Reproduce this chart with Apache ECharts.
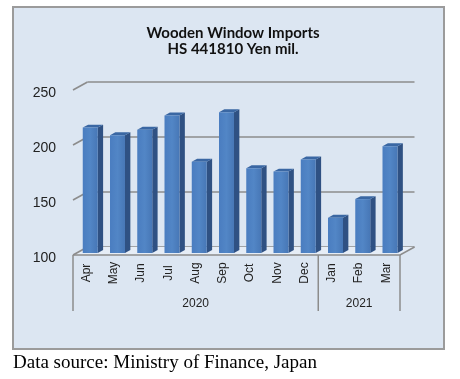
<!DOCTYPE html>
<html>
<head>
<meta charset="utf-8">
<script src="https://cdn.jsdelivr.net/npm/echarts@6/dist/echarts.min.js"></script>
<style>
html,body{margin:0;padding:0;background:#fff;}
#c{width:460px;height:379px;}
</style>
</head>
<body>
<div id="c"></div>
<script>
// ---- data ----
const months = ['Apr','May','Jun','Jul','Aug','Sep','Oct','Nov','Dec','Jan','Feb','Mar'];
const values = [214, 207, 212, 225, 183, 228, 177, 174, 185, 132, 149, 197];
const yearLabels = ['2020', '2021'];
const yearStart = [0, 9];
const yearEnd = [8, 11];
const yTicks = [100, 150, 200, 250];

// ---- style ----
const DX = 14.5, DY = -8;          // depth vector of the 3D box
const F0 = 0.25, F1 = 0.62;        // bar depth position (front/back fractions)
const gridColor = '#8c8c8c';

const chart = echarts.init(document.getElementById('c'), null, {renderer: 'canvas'});

function barItem(params, api) {
  const idx = api.value(0), v = api.value(1);
  const p0 = api.coord([idx, yTicks[0]]);
  const p1 = api.coord([idx, v]);
  const band = api.size([1, 0])[0];
  const w = band * 0.55;
  const xl = p0[0] - w / 2 + F0 * DX, xr = xl + w;
  const yb = p0[1] + F0 * DY, yt = p1[1] + F0 * DY;
  const dx = (F1 - F0) * DX, dy = (F1 - F0) * DY;
  return {
    type: 'group',
    children: [
      {type: 'polygon', shape: {points: [[xr, yt], [xr + dx, yt + dy], [xr + dx, yb + dy], [xr, yb]]},
       style: {fill: '#2f5183'}},
      {type: 'polygon', shape: {points: [[xl, yt], [xl + dx, yt + dy], [xr + dx, yt + dy], [xr, yt]]},
       style: {fill: '#3a67a3'}},
      {type: 'rect', shape: {x: xl, y: yt, width: w, height: yb - yt},
       style: {fill: new echarts.graphic.LinearGradient(0, 0, 1, 0, [
         {offset: 0, color: '#4a7dc0'}, {offset: 0.5, color: '#5286c6'}, {offset: 1, color: '#4777b6'}])}}
    ]
  };
}

function frameItem(params, api) {
  const cs = params.coordSys;
  const x0 = cs.x, x1 = cs.x + cs.width;
  const children = [];
  const yb = api.coord([0, yTicks[0]])[1];
  // floor
  children.push({type: 'polygon', z2: 0,
    shape: {points: [[x0, yb], [x1, yb], [x1 + DX, yb + DY], [x0 + DX, yb + DY]]},
    style: {fill: '#e6edf6', stroke: null}});
  children.push({type: 'polyline', z2: 1,
    shape: {points: [[x0, yb], [x1, yb], [x1 + DX, yb + DY]]},
    style: {stroke: gridColor, lineWidth: 1.5, fill: null}});
  // left wall diagonals
  yTicks.forEach(function (t) {
    const y = api.coord([0, t])[1];
    children.push({type: 'line', z2: 1, shape: {x1: x0, y1: y, x2: x0 + DX, y2: y + DY},
      style: {stroke: gridColor, lineWidth: 1.5}});
  });
  // category group box
  const band = api.size([1, 0])[0];
  const boxBottom = yb + 56;
  const seps = [];
  yearLabels.forEach(function (lab, i) {
    const xa = api.coord([yearStart[i], yTicks[0]])[0] - band / 2;
    const xb = api.coord([yearEnd[i], yTicks[0]])[0] + band / 2;
    seps.push(xa, xb);
    children.push({type: 'text', z2: 2, style: {x: (xa + xb) / 2, y: yb + 49, text: lab,
      align: 'center', verticalAlign: 'middle', fill: '#222', font: '12px "Liberation Sans", Arial, sans-serif'}});
  });
  Array.from(new Set(seps)).forEach(function (x) {
    children.push({type: 'line', z2: 1, shape: {x1: x, y1: yb, x2: x, y2: boxBottom},
      style: {stroke: gridColor, lineWidth: 1.5}});
  });
  return {type: 'group', children: children};
}

chart.setOption({
  animation: false,
  backgroundColor: '#fff',
  title: {
    text: 'Wooden Window Imports\nHS 441810 Yen mil.',
    left: 228, top: 20, textAlign: 'center',
    textStyle: {fontFamily: 'Lato, "Liberation Sans", sans-serif', fontWeight: 'bold', fontSize: 15,
      lineHeight: 16, color: '#111'}
  },
  graphic: [
    {type: 'rect', z: -10, shape: {x: 13, y: 7, width: 431, height: 342},
     style: {fill: '#dce6f2', stroke: '#9b9b9b', lineWidth: 2}},
    {type: 'text', left: 13, top: 354, z: 10,
     style: {text: 'Data source: Ministry of Finance, Japan', fill: '#000',
       font: '19px "Liberation Serif", "Times New Roman", serif'}}
  ],
  grid: [
    {left: 73, width: 327, top: 90, height: 165},
    {left: 73 + DX, width: 327, top: 90 + DY, height: 165}
  ],
  xAxis: [
    {type: 'category', gridIndex: 0, data: months,
     axisLine: {show: false}, axisTick: {show: false},
     axisLabel: {rotate: 90, align: 'center', verticalAlign: 'middle', margin: 18, fontSize: 12,
       color: '#222', fontFamily: '"Liberation Sans", Arial, sans-serif', interval: 0}},
    {type: 'category', gridIndex: 1, data: months, show: false}
  ],
  yAxis: [
    {type: 'value', gridIndex: 0, min: 100, max: 250, interval: 50,
     axisLine: {show: false}, axisTick: {show: false}, splitLine: {show: false},
     axisLabel: {margin: 17, fontSize: 14, color: '#222', verticalAlign: 'top', lineHeight: 6,
       fontFamily: '"Liberation Sans", Arial, sans-serif'}},
    {type: 'value', gridIndex: 1, min: 100, max: 250, interval: 50,
     axisLine: {show: false}, axisTick: {show: false}, axisLabel: {show: false},
     splitLine: {show: true, lineStyle: {color: gridColor, width: 1.5}}}
  ],
  series: [
    {type: 'custom', xAxisIndex: 0, yAxisIndex: 0, z: 1, renderItem: frameItem,
     data: [[0, 100]], silent: true},
    {type: 'custom', xAxisIndex: 0, yAxisIndex: 0, z: 3, renderItem: barItem,
     encode: {x: 0, y: 1},
     data: values.map(function (v, i) { return [i, v]; })}
  ]
});
</script>
</body>
</html>
